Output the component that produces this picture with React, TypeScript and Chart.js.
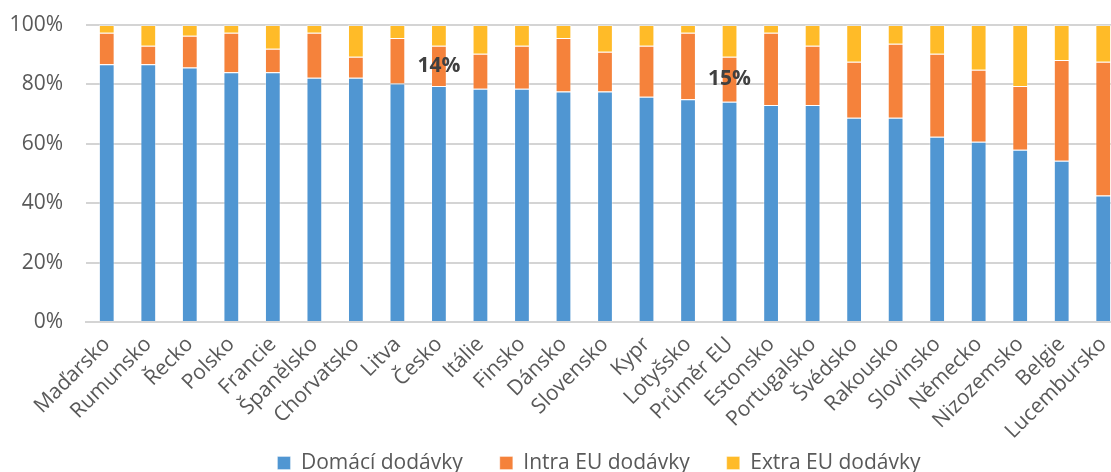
import React, { useEffect, useRef } from "react";
import { Chart, registerables } from "chart.js";

Chart.register(...registerables);

const categories = [
  "Maďarsko", "Rumunsko", "Řecko", "Polsko", "Francie", "Španělsko", "Chorvatsko",
  "Litva", "Česko", "Itálie", "Finsko", "Dánsko", "Slovensko", "Kypr", "Lotyšsko",
  "Průměr EU", "Estonsko", "Portugalsko", "Švédsko", "Rakousko", "Slovinsko",
  "Německo", "Nizozemsko", "Belgie", "Lucembursko",
];

const domestic = [
  86.8, 86.8, 85.7, 84.1, 84.1, 82.2, 82.2, 80.3, 79.5, 78.5, 78.5, 77.6, 77.6,
  75.8, 75.0, 74.2, 73.1, 73.1, 68.8, 68.8, 62.4, 60.7, 58.0, 54.3, 42.6,
];

const intraEU = [
  10.6, 6.2, 10.7, 13.3, 7.9, 15.2, 7.1, 15.3, 13.5, 11.8, 14.5, 18.0, 13.4,
  17.2, 22.4, 15.1, 24.3, 19.9, 18.8, 24.9, 27.9, 24.2, 21.5, 33.9, 45.0,
];

const extraEU = [
  2.6, 7.0, 3.6, 2.6, 8.0, 2.6, 10.7, 4.4, 7.0, 9.7, 7.0, 4.4, 9.0,
  7.0, 2.6, 10.7, 2.6, 7.0, 12.4, 6.3, 9.7, 15.1, 20.5, 11.8, 12.4,
];

const seriesNames = ["Domácí dodávky", "Intra EU dodávky", "Extra EU dodávky"];
const yTicks = [0, 20, 40, 60, 80, 100];
const labeledCategories = ["Česko", "Průměr EU"];

const FONT = "'Open Sans', sans-serif";
const TEXT = "#595959";

const W = 1198;
const H = 520;

const intraLabelPlugin = {
  id: "intraLabels",
  afterDatasetsDraw(chart: any) {
    const meta = chart.getDatasetMeta(1);
    const ctx = chart.ctx;
    ctx.save();
    ctx.font = `bold 21px ${FONT}`;
    ctx.fillStyle = "#404040";
    ctx.textAlign = "center";
    ctx.textBaseline = "middle";
    labeledCategories.forEach((name) => {
      const i = categories.indexOf(name);
      const el = meta.data[i];
      if (!el) return;
      const yMid = (el.y + el.base) / 2;
      ctx.fillText(Math.round(intraEU[i]) + "%", el.x, yMid);
    });
    ctx.restore();
  },
};

const legendShiftPlugin = {
  id: "legendShift",
  afterLayout(chart: any) {
    const l = chart.legend;
    if (!l) return;
    const dy = -36.5;
    const dx = 37;
    l.top += dy;
    l.bottom += dy;
    l.left += dx;
    l.right += dx;
  },
};

export default function App() {
  const ref = useRef<HTMLCanvasElement | null>(null);

  useEffect(() => {
    if (!ref.current) return;
    const chart = new Chart(ref.current, {
      type: "bar",
      data: {
        labels: categories,
        datasets: [
          { label: seriesNames[0], data: domestic, backgroundColor: "#5096d2" },
          { label: seriesNames[1], data: intraEU, backgroundColor: "#f5823b" },
          { label: seriesNames[2], data: extraEU, backgroundColor: "#ffbb28" },
        ].map((d) => ({
          ...d,
          borderColor: "rgba(255,255,255,0.35)",
          borderWidth: 1,
          categoryPercentage: 1,
          barPercentage: 0.38,
        })),
      },
      options: {
        animation: false,
        responsive: false,
        devicePixelRatio: 1,
        layout: { padding: { top: 25, right: 74, left: 0, bottom: 0 } },
        plugins: {
          tooltip: { enabled: false },
          legend: {
            position: "bottom",
            labels: {
              boxWidth: 13,
              boxHeight: 13,
              padding: 37,
              color: TEXT,
              font: { family: FONT, size: 21 },
            },
          },
        },
        scales: {
          x: {
            stacked: true,
            afterFit: (axis: any) => {
              axis.height = 130;
              axis.paddingLeft = 0;
              axis.paddingRight = 0;
            },
            grid: { display: false },
            border: { color: "#d4d4d4", width: 2 },
            ticks: {
              color: TEXT,
              font: { family: FONT, size: 21 },
              maxRotation: 45,
              minRotation: 45,
              padding: 2,
              autoSkip: false,
            },
          },
          y: {
            stacked: true,
            min: 0,
            max: 100,
            afterFit: (axis: any) => {
              axis.width = 86;
              axis.paddingTop = 0;
              axis.paddingBottom = 0;
            },
            afterBuildTicks: (axis: any) => {
              axis.ticks = yTicks.map((v) => ({ value: v }));
            },
            grid: { color: "#d4d4d4", lineWidth: 2, drawTicks: false },
            border: { display: false },
            ticks: {
              color: TEXT,
              font: { family: FONT, size: 21 },
              padding: 23,
              callback: (v: any) => v + "%",
            },
          },
        },
      },
      plugins: [intraLabelPlugin, legendShiftPlugin],
    });
    return () => chart.destroy();
  }, []);

  return (
    <div
      style={{
        position: "fixed",
        left: 0,
        top: 0,
        width: 1111,
        height: 472,
        overflow: "hidden",
        background: "#fff",
      }}
    >
      <canvas ref={ref} width={W} height={H} style={{ width: W, height: H, display: "block" }} />
    </div>
  );
}
